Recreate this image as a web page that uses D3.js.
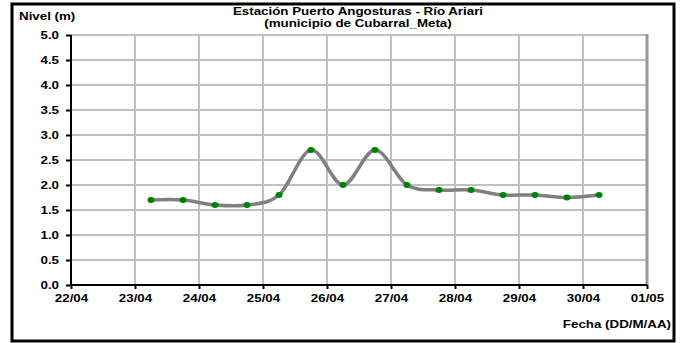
<!DOCTYPE html>
<html>
<head>
<meta charset="utf-8">
<script src="https://cdn.jsdelivr.net/npm/d3@7"></script>
<style>
  body { margin: 0; background: #fff; }
  text { font-family: Arial, "Liberation Sans", sans-serif; font-weight: bold; fill: #000; }
</style>
</head>
<body>
<svg width="684" height="343"></svg>
<script>
var svg = d3.select("svg"),
  width = +svg.attr("width"),
  height = +svg.attr("height");

// dias del eje x (22/04 a 01/05)
var dayLabels = ["22/04", "23/04", "24/04", "25/04", "26/04", "27/04", "28/04", "29/04", "30/04", "01/05"];
var yTicks = [0, 0.5, 1, 1.5, 2, 2.5, 3, 3.5, 4, 4.5, 5];

// lecturas cada 12 horas, en dias desde 22/04 00:00
var dias = [1.25, 1.75, 2.25, 2.75, 3.25, 3.75, 4.25, 4.75, 5.25, 5.75, 6.25, 6.75, 7.25, 7.75, 8.25];
var nivel = [1.7, 1.7, 1.6, 1.6, 1.8, 2.7, 2.0, 2.7, 2.0, 1.9, 1.9, 1.8, 1.8, 1.75, 1.8];

var margin = {left: 71, right: 647, top: 35, bottom: 285};

var x = d3.scaleLinear().domain([0, 9]).range([margin.left, margin.right]);
var y = d3.scaleLinear().domain([0, 5]).range([margin.bottom, margin.top]);

var f = d3.format(".1f");

// el texto del grafico original esta estirado a lo ancho
var fs = 10.5, sx = 1.27;

// marco exterior
svg.append("rect")
  .attr("x", 12).attr("y", 4)
  .attr("width", 662).attr("height", 337)
  .attr("fill", "none")
  .attr("stroke", "#000")
  .attr("stroke-width", 3);

// grilla
svg.append("g").selectAll("line")
  .data(yTicks.slice(1))
  .enter().append("line")
  .attr("x1", margin.left).attr("x2", margin.right)
  .attr("y1", d => y(d)).attr("y2", d => y(d))
  .attr("stroke", "#c0c0c0").attr("stroke-width", 2);

svg.append("g").selectAll("line")
  .data(d3.range(1, 10))
  .enter().append("line")
  .attr("x1", d => x(d)).attr("x2", d => x(d))
  .attr("y1", margin.top).attr("y2", margin.bottom)
  .attr("stroke", "#c0c0c0").attr("stroke-width", 2);

// borde derecho del area de trazado
svg.append("line")
  .attr("x1", margin.right).attr("x2", margin.right)
  .attr("y1", margin.top - 1).attr("y2", margin.bottom)
  .attr("stroke", "#999").attr("stroke-width", 3);

// ejes
var yAxis = d3.axisLeft(y).tickValues(yTicks).tickFormat(f).tickSize(5);
var xAxis = d3.axisBottom(x).tickValues(d3.range(0, 10)).tickFormat((d, i) => dayLabels[i]).tickSize(4);

var gy = svg.append("g").attr("transform", "translate(" + margin.left + ",0)").call(yAxis);
var gx = svg.append("g").attr("transform", "translate(0," + margin.bottom + ")").call(xAxis);

[gx, gy].forEach(function(g) {
  g.select(".domain").attr("stroke", "#000").attr("stroke-width", 2);
  g.selectAll(".tick line").attr("stroke", "#000").attr("stroke-width", 2);
  g.selectAll(".tick text").attr("font-size", fs).attr("font-weight", "bold")
    .attr("font-family", "Arial, 'Liberation Sans', sans-serif").attr("fill", "#000")
    .attr("transform", "scale(" + sx + ",1)");
});
gy.selectAll(".tick text").attr("x", -12 / sx).attr("dy", "0.34em");
gx.selectAll(".tick text").attr("y", 17).attr("dy", 0);
gy.select(".domain").attr("d", "M0," + margin.top + "V" + margin.bottom);
gx.select(".domain").attr("d", "M" + margin.left + ",0H" + margin.right);

// serie
var pts = dias.map((d, i) => [d, nivel[i]]);

var line = d3.line()
  .x(d => x(d[0]))
  .y(d => y(d[1]))
  .curve(d3.curveCardinal.tension(0));

svg.append("path")
  .datum(pts)
  .attr("d", line)
  .attr("fill", "none")
  .attr("stroke", "#808080")
  .attr("stroke-width", 3.5);

svg.append("g").selectAll("ellipse")
  .data(pts)
  .enter().append("ellipse")
  .attr("cx", d => x(d[0]))
  .attr("cy", d => y(d[1]))
  .attr("rx", 3.5).attr("ry", 2.9)
  .attr("fill", "#008000");

// textos
function label(txt, px, py, anchor) {
  svg.append("text")
    .attr("transform", "translate(" + px + "," + py + ") scale(" + sx + ",1)")
    .attr("text-anchor", anchor)
    .attr("font-size", fs)
    .text(txt);
}

label("Estación Puerto Angosturas - Río Ariari", 358, 15, "middle");
label("(municipio de Cubarral_Meta)", 358, 27, "middle");
label("Nivel (m)", 19, 20, "start");
label("Fecha (DD/M/AA)", 671, 328, "end");
</script>
</body>
</html>
